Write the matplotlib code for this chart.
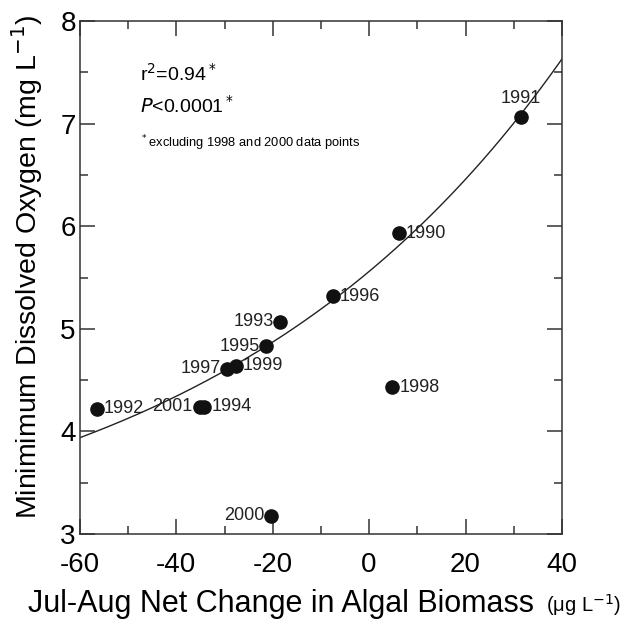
import matplotlib
matplotlib.use('Agg')
import matplotlib.pyplot as plt
import numpy as np

plt.rcParams['font.family'] = ['Liberation Sans', 'DejaVu Sans']
plt.rcParams['axes.unicode_minus'] = False

# data points
years = ['1991', '1990', '1996', '1993', '1995', '1999', '1997',
         '1992', '2001', '1994', '1998', '2000']
biomass = [31.5, 6.2, -7.5, -18.4, -21.3, -27.7, -29.4,
           -56.5, -35.2, -34.2, 4.8, -20.3]
oxygen = [7.07, 5.93, 5.32, 5.07, 4.83, 4.64, 4.61,
          4.22, 4.24, 4.24, 4.43, 3.18]
# where each year label sits: 'l' left, 'r' right, 't' top
label_side = ['t', 'r', 'r', 'l', 'l', 'r', 'l',
              'r', 'l', 'r', 'r', 'l']

# exponential fit line y = y0 + a*exp(b*x)
fit_y0 = 2.613
fit_a = 2.947
fit_b = 0.0133

fig = plt.figure(figsize=(6.25, 6.21), dpi=100)
ax = fig.add_axes([0.128, 0.140, 0.771, 0.826])

xs = np.linspace(-60, 40, 300)
ax.plot(xs, fit_y0 + fit_a * np.exp(fit_b * xs), color='#222222', lw=1.0)

ax.plot(biomass, oxygen, 'o', color='#111111', ms=9.5, zorder=3)

for yr, x, y, side in zip(years, biomass, oxygen, label_side):
    if side == 'r':
        ax.annotate(yr, (x, y), xytext=(5, 0), textcoords='offset points',
                    ha='left', va='center', fontsize=13, color='#222222')
    elif side == 'l':
        ax.annotate(yr, (x, y), xytext=(-5, 0), textcoords='offset points',
                    ha='right', va='center', fontsize=13, color='#222222')
    else:
        ax.annotate(yr, (x, y), xytext=(0, 7), textcoords='offset points',
                    ha='center', va='bottom', fontsize=13, color='#222222')

# stats text
ax.text(-47.5, 7.415, r'r$^2$=0.94$^*$', fontsize=14, va='baseline')
ax.text(-47.5, 7.11, r'$\it{P}$<0.0001$^*$', fontsize=14, va='baseline')
ax.text(-47.5, 6.77, r'$^*$excluding 1998 and 2000 data points', fontsize=9.3,
        va='baseline')

ax.set_xlim(-60, 40)
ax.set_ylim(3, 8)
ax.set_xticks([-60, -40, -20, 0, 20, 40])
ax.set_xticks(np.arange(-50, 40, 20), minor=True)
ax.set_yticks([3, 4, 5, 6, 7, 8])
ax.set_yticks([3.5, 4.5, 5.5, 6.5, 7.5], minor=True)
ax.tick_params(which='both', direction='in', top=True, right=True,
               labelsize=20, width=1.1, color='#333333')
ax.tick_params(which='major', length=11)
ax.tick_params(which='minor', length=5.5)
ax.tick_params(axis='x', pad=13)
ax.tick_params(axis='y', pad=3)
for s in ax.spines.values():
    s.set_linewidth(1.1)
    s.set_color('#333333')

ax.set_ylabel('Minimimum Dissolved Oxygen (mg L$^{-1}$)', fontsize=20.5)
ax.yaxis.set_label_coords(-0.072, 0.52)

# x axis title, with the unit part in a smaller size
fig.text(0.045, 0.0145, 'Jul-Aug Net Change in Algal Biomass', fontsize=22,
         ha='left', va='baseline')
fig.text(0.994, 0.0145, '(\u03bcg L$^{-1}$)', fontsize=14.5, ha='right',
         va='baseline')

fig.savefig('out.png', dpi=100)
